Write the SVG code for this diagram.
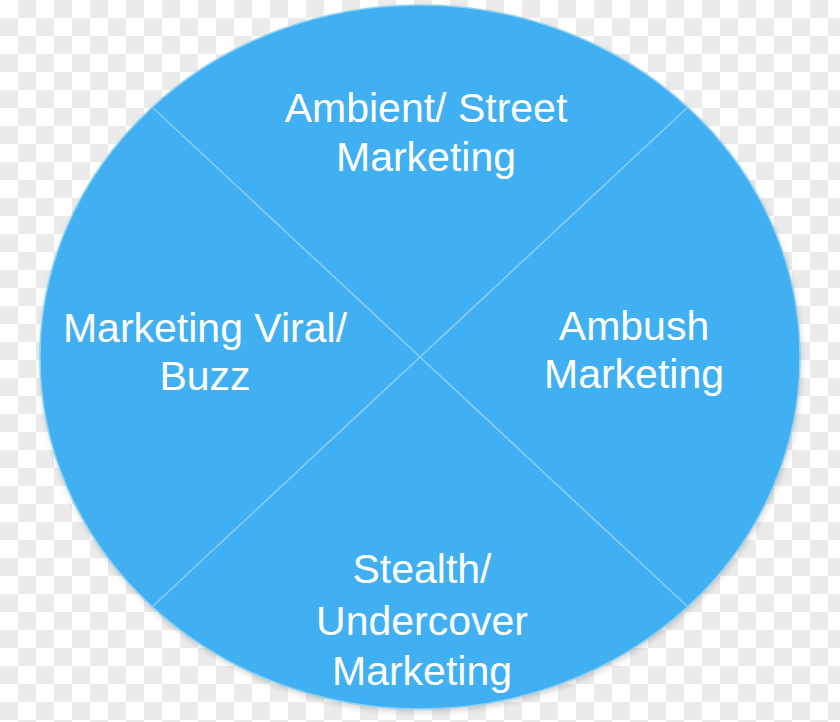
<svg xmlns="http://www.w3.org/2000/svg" width="840" height="722" viewBox="0 0 840 722">
  <defs>
    <pattern id="checker" x="0" y="0" width="36" height="36" patternUnits="userSpaceOnUse">
      <rect width="36" height="36" fill="#ffffff"/>
      <rect x="18" y="0" width="18" height="18" fill="#ebebeb"/>
      <rect x="0" y="18" width="18" height="18" fill="#ebebeb"/>
    </pattern>
    <filter id="shadow" x="-10%" y="-10%" width="120%" height="120%">
      <feGaussianBlur stdDeviation="3"/>
    </filter>
  </defs>
  <style>
    .lbl { font-family: "Liberation Sans", Arial, sans-serif; font-size: 41px; fill: #ffffff; text-anchor: middle; }
    .div { stroke: #86cdf0; stroke-width: 1.6; fill: none; }
  </style>
  <rect width="840" height="722" fill="url(#checker)"/>
  <g id="circle">
    <ellipse cx="421" cy="360" rx="380" ry="352" fill="#000000" opacity="0.18" filter="url(#shadow)"/>
    <ellipse cx="420" cy="357" rx="380" ry="352" fill="#40b0f3" stroke="#8ed2f2" stroke-width="1.5"/>
  </g>
  <g id="connectors">
    <line class="div" x1="152" y1="107" x2="688" y2="607"/>
    <line class="div" x1="688" y1="107" x2="152" y2="607"/>
  </g>
  <g id="node-top">
    <text class="lbl" x="426" y="122">Ambient/ Street</text>
    <text class="lbl" x="426" y="171">Marketing</text>
  </g>
  <g id="node-left">
    <text class="lbl" x="205" y="342">Marketing Viral/</text>
    <text class="lbl" x="205" y="390">Buzz</text>
  </g>
  <g id="node-right">
    <text class="lbl" x="634" y="340">Ambush</text>
    <text class="lbl" x="634" y="388">Marketing</text>
  </g>
  <g id="node-bottom">
    <text class="lbl" x="422" y="583">Stealth/</text>
    <text class="lbl" x="422" y="635">Undercover</text>
    <text class="lbl" x="422" y="685">Marketing</text>
  </g>
</svg>
